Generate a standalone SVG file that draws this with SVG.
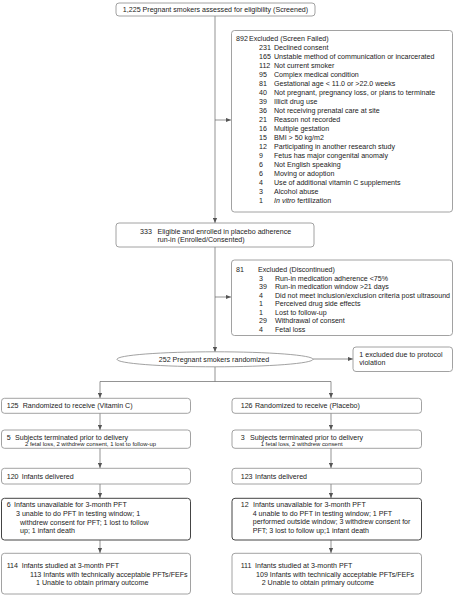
<svg xmlns="http://www.w3.org/2000/svg" width="454" height="595" viewBox="0 0 454 595">
<defs>
<marker id="ah" viewBox="0 0 6 6" refX="6" refY="3" markerWidth="5" markerHeight="5" markerUnits="userSpaceOnUse" orient="auto">
<path d="M0,0.5 L6,3 L0,5.5 Z" fill="#555"/>
</marker>
<style>
text{font-family:"Liberation Sans",Arial,sans-serif;font-size:7.1px;fill:#222}
.s{font-size:5.9px}
.b{fill:#fff;stroke:#8a8a8a;stroke-width:0.8}
.d{fill:#fff;stroke:#444;stroke-width:1}
.c{fill:none;stroke:#666;stroke-width:0.7}
.a{marker-end:url(#ah)}
</style>
</defs>
<rect width="454" height="595" fill="#fff"/>
<g id="connectors">
<path class="c a" d="M215,16 V223"/>
<path class="c a" d="M215,120 H231"/>
<path class="c a" d="M215,247 V352"/>
<path class="c a" d="M215,297 H231"/>
<path class="c a" d="M313,359 H353"/>
<path class="c" d="M215,367 V381.5 M100,381.5 H331"/>
<path class="c a" d="M100,381.5 V398"/>
<path class="c a" d="M331,381.5 V398"/>
<path class="c a" d="M100,413 V430"/>
<path class="c a" d="M331,413 V430"/>
<path class="c a" d="M100,448 V468"/>
<path class="c a" d="M331,448 V468"/>
<path class="c a" d="M100,484 V498"/>
<path class="c a" d="M331,484 V498"/>
<path class="c a" d="M100,540 V553"/>
<path class="c a" d="M331,540 V553"/>
</g>
<g id="screened">
<rect class="b" x="116" y="3" width="199" height="13" rx="3"/>
<text x="215.5" y="12" text-anchor="middle">1,225 Pregnant smokers assessed for eligibility (Screened)</text>
</g>
<g id="excluded1">
<rect class="b" x="231.5" y="30.5" width="221" height="181.5" rx="3"/>
<text x="236" y="40.5">892</text><text x="249" y="40.5">Excluded (Screen Failed)</text>
<text x="259" y="49.5">231</text><text x="274" y="49.5">Declined consent</text>
<text x="259" y="58.5">165</text><text x="274" y="58.5">Unstable method of communication or incarcerated</text>
<text x="259" y="67.5">112</text><text x="274" y="67.5">Not current smoker</text>
<text x="259" y="76.5">95</text><text x="274" y="76.5">Complex medical condition</text>
<text x="259" y="85.5">81</text><text x="274" y="85.5">Gestational age &lt; 11.0 or &gt;22.0 weeks</text>
<text x="259" y="94.5">40</text><text x="274" y="94.5">Not pregnant, pregnancy loss, or plans to terminate</text>
<text x="259" y="103.5">39</text><text x="274" y="103.5">Illicit drug use</text>
<text x="259" y="112.5">36</text><text x="274" y="112.5">Not receiving prenatal care at site</text>
<text x="259" y="121.5">21</text><text x="274" y="121.5">Reason not recorded</text>
<text x="259" y="130.5">16</text><text x="274" y="130.5">Multiple gestation</text>
<text x="259" y="139.5">15</text><text x="274" y="139.5">BMI &gt; 50 kg/m2</text>
<text x="259" y="148.5">12</text><text x="274" y="148.5">Participating in another research study</text>
<text x="259" y="157.5">9</text><text x="274" y="157.5">Fetus has major congenital anomaly</text>
<text x="259" y="166.5">6</text><text x="274" y="166.5">Not English speaking</text>
<text x="259" y="175.5">6</text><text x="274" y="175.5">Moving or adoption</text>
<text x="259" y="184.5">4</text><text x="274" y="184.5">Use of additional vitamin C supplements</text>
<text x="259" y="193.5">3</text><text x="274" y="193.5">Alcohol abuse</text>
<text x="259" y="202.5">1</text><text x="274" y="202.5"><tspan font-style="italic">In vitro</tspan> fertilization</text>
</g>
<g id="enrolled">
<rect class="b" x="116" y="223" width="198" height="24" rx="3"/>
<text x="140" y="234">333</text><text x="157.5" y="234">Eligible and enrolled in placebo adherence</text>
<text x="157.5" y="241.5">run-in (Enrolled/Consented)</text>
</g>
<g id="excluded2">
<rect class="b" x="231.5" y="260" width="221" height="75.5" rx="3"/>
<text x="236" y="272">81</text><text x="258" y="272">Excluded (Discontinued)</text>
<text x="259" y="280.5">3</text><text x="275" y="280.5">Run-in medication adherence &lt;75%</text>
<text x="259" y="289">39</text><text x="275" y="289">Run-in medication window &gt;21 days</text>
<text x="259" y="297.5">4</text><text x="275" y="297.5">Did not meet inclusion/exclusion criteria post ultrasound</text>
<text x="259" y="306">1</text><text x="275" y="306">Perceived drug side effects</text>
<text x="259" y="314.5">1</text><text x="275" y="314.5">Lost to follow-up</text>
<text x="259" y="323">29</text><text x="275" y="323">Withdrawal of consent</text>
<text x="259" y="331.5">4</text><text x="275" y="331.5">Fetal loss</text>
</g>
<g id="randomized">
<ellipse cx="215" cy="359.3" rx="98" ry="7.5" fill="#fff" stroke="#8a8a8a" stroke-width="0.8"/>
<text x="214" y="361.8" text-anchor="middle">252 Pregnant smokers randomized</text>
</g>
<g id="protocol">
<rect class="b" x="353" y="347" width="99.5" height="24.5" rx="3"/>
<text x="359.3" y="356.8">1 excluded due to protocol</text>
<text x="359.3" y="365.2">violation</text>
</g>
<g id="vitc">
<rect class="b" x="1.5" y="398.3" width="189" height="15" rx="3"/>
<text x="6.7" y="407.5">125</text><text x="22.7" y="407.5">Randomized to receive (Vitamin C)</text>
</g>
<g id="placebo">
<rect class="b" x="232" y="398.3" width="189.5" height="15" rx="3"/>
<text x="240.7" y="407.5">126</text><text x="255" y="407.5">Randomized to receive (Placebo)</text>
</g>
<g id="term-vitc">
<rect class="b" x="1.5" y="430" width="189" height="18.3" rx="3"/>
<text x="6.7" y="440">5</text><text x="15" y="440">Subjects terminated prior to delivery</text>
<text class="s" x="25" y="446.2">2 fetal loss, 2 withdrew consent, 1 lost to follow-up</text>
</g>
<g id="term-placebo">
<rect class="b" x="232" y="430" width="189.5" height="18.3" rx="3"/>
<text x="240.7" y="440">3</text><text x="250" y="440">Subjects terminated prior to delivery</text>
<text class="s" x="260.7" y="446.2">1 fetal loss, 2 withdrew consent</text>
</g>
<g id="deliv-vitc">
<rect class="b" x="1.5" y="468.3" width="189" height="15.7" rx="3"/>
<text x="6.7" y="478.5">120</text><text x="21.7" y="478.5">Infants delivered</text>
</g>
<g id="deliv-placebo">
<rect class="b" x="232" y="468.3" width="189.5" height="15.7" rx="3"/>
<text x="240.7" y="478.5">123</text><text x="255" y="478.5">Infants delivered</text>
</g>
<g id="unavail-vitc">
<rect class="d" x="1.5" y="498.3" width="189" height="41.7" rx="3"/>
<text x="6.7" y="507">6</text><text x="14" y="507">Infants unavailable for 3-month PFT</text>
<text x="16" y="516">3 unable to do PFT in testing window; 1</text>
<text x="20" y="525">withdrew consent for PFT; 1 lost to follow</text>
<text x="20" y="533.2">up; 1 infant death</text>
</g>
<g id="unavail-placebo">
<rect class="d" x="232" y="498.3" width="189.5" height="41.7" rx="3"/>
<text x="240.7" y="507">12</text><text x="253" y="507">Infants unavailable for 3-month PFT</text>
<text x="252.7" y="515.5">4 unable to do PFT in testing window; 1 PFT</text>
<text x="252.7" y="524.3">performed outside window; 3 withdrew consent for</text>
<text x="252.7" y="533.2">PFT; 3 lost to follow up;1 infant death</text>
</g>
<g id="studied-vitc">
<rect class="b" x="1.5" y="553.3" width="189" height="40.7" rx="3"/>
<text x="6.7" y="567.5">114</text><text x="21.7" y="567.5">Infants studied at 3-month PFT</text>
<text x="30" y="576.5">113 Infants with technically acceptable PFTs/FEFs</text>
<text x="36" y="585.2">1 Unable to obtain primary outcome</text>
</g>
<g id="studied-placebo">
<rect class="b" x="232" y="553.3" width="189.5" height="40.7" rx="3"/>
<text x="240.7" y="567.5">111</text><text x="255" y="567.5">Infants studied at 3-month PFT</text>
<text x="256" y="576.5">109 Infants with technically acceptable PFTs/FEFs</text>
<text x="261.7" y="585.2">2 Unable to obtain primary outcome</text>
</g>
</svg>
